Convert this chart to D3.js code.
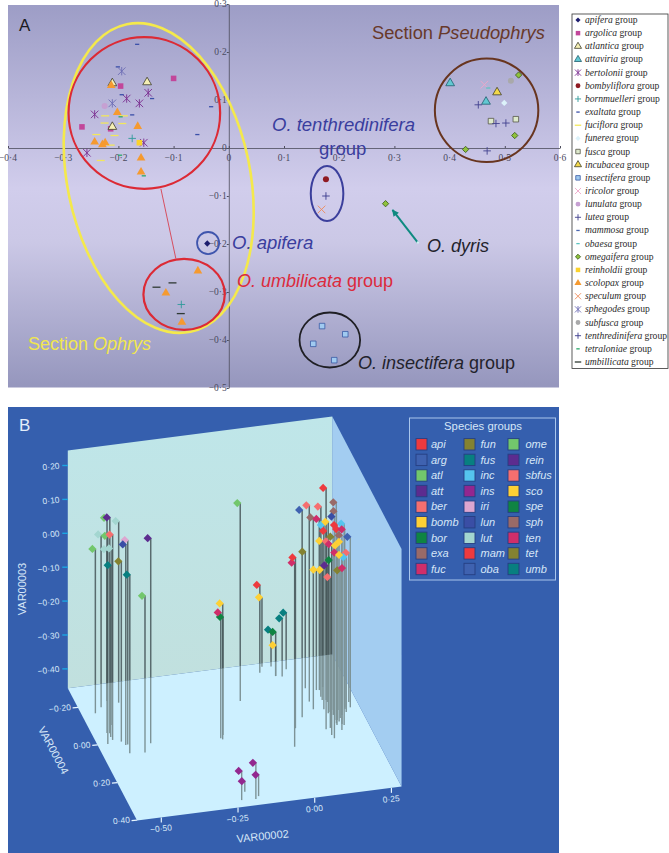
<!DOCTYPE html>
<html>
<head>
<meta charset="utf-8">
<script src="https://cdn.jsdelivr.net/npm/d3@7"></script>
<style>
  body { margin: 0; background: #fff; }
  svg { display: block; }
  text { font-family: "Liberation Sans", Arial, sans-serif; }
  .serif text, text.serif { font-family: "Liberation Serif", "Times New Roman", serif; }
</style>
</head>
<body>
<div id="chart"></div>
<script>
// panel A: species groups in the legend
const speciesA = ["apifera", "argolica", "atlantica", "attaviria", "bertolonii", "bombyliflora", "bornmuelleri",
    "exaltata", "fuciflora", "funerea", "fusca", "incubacea", "insectifera", "iricolor", "lunulata", "lutea",
    "mammosa", "obaesa", "omegaifera", "reinholdii", "scolopax", "speculum", "sphegodes", "subfusca",
    "tenthredinifera", "tetraloniae", "umbillicata"];

// panel A: [group, axis x, axis y]
const pointsA = [
    ["apifera", -.039, -.199],
    ["argolica", -.100, .145], ["argolica", -.196, .129], ["argolica", -.266, .044], ["argolica", -.214, .040],
    ["atlantica", -.211, .135], ["atlantica", -.148, .137], ["atlantica", -.211, .044],
    ["attaviria", .401, .135], ["attaviria", .466, .0965],
    ["bertolonii", -.146, .115], ["bertolonii", -.185, .103], ["bertolonii", -.162, .093], ["bertolonii", -.243, .070],
    ["bertolonii", -.257, -.010], ["bertolonii", -.154, .011],
    ["bombyliflora", .176, -.065],
    ["bornmuelleri", -.175, .020], ["bornmuelleri", -.086, -.326],
    ["exaltata", -.166, .216], ["exaltata", -.201, .169], ["exaltata", -.194, .111], ["exaltata", -.139, .103],
    ["exaltata", -.175, .069], ["exaltata", -.032, .086], ["exaltata", -.057, .028],
    ["fuciflora", -.224, .067], ["fuciflora", -.190, .067], ["fuciflora", -.193, .051], ["fuciflora", -.240, .028],
    ["fuciflora", -.207, .026], ["fuciflora", -.214, .006], ["fuciflora", -.232, -.026], ["fuciflora", -.225, .052],
    ["funerea", .499, .094],
    ["fusca", .475, .056], ["fusca", .520, .060],
    ["incubacea", .486, .116],
    ["insectifera", .169, -.371], ["insectifera", .211, -.388], ["insectifera", .153, -.408], ["insectifera", .191, -.442],
    ["iricolor", .463, .132],
    ["lunulata", -.225, .0875],
    ["lutea", .452, .090], ["lutea", .484, .051], ["lutea", .502, .052], ["lutea", .468, -.006],
    ["obaesa", .470, .125],
    ["omegaifera", .525, .152], ["omegaifera", .518, .026], ["omegaifera", .429, -.003], ["omegaifera", .284, -.116],
    ["reinholdii", -.162, .011],
    ["scolopax", -.213, .130], ["scolopax", -.202, .074], ["scolopax", -.165, .045], ["scolopax", -.243, .0125],
    ["scolopax", -.224, .011], ["scolopax", -.229, .007], ["scolopax", -.159, -.021], ["scolopax", -.159, -.050],
    ["scolopax", -.056, -.256], ["scolopax", -.114, -.302], ["scolopax", -.085, -.363],
    ["speculum", .168, -.128],
    ["sphegodes", -.194, .160], ["sphegodes", -.211, .093],
    ["subfusca", .511, .140],
    ["tenthredinifera", .176, -.100],
    ["tetraloniae", -.196, .065], ["tetraloniae", -.197, -.015], ["tetraloniae", -.154, -.058],
    ["umbillicata", -.131, -.290], ["umbillicata", -.102, -.281], ["umbillicata", -.087, -.345]
];

const ticksAx = [-.4, -.3, -.2, -.1, 0, .1, .2, .3, .4, .5, .6];
const ticksAy = [-.5, -.4, -.3, -.2, -.1, 0, .1, .2, .3];

// panel B: legend codes, column by column
const speciesB = ["api", "arg", "atl", "att", "ber", "bomb", "bor", "exa", "fuc",
    "fun", "fus", "inc", "ins", "iri", "lun", "lut", "mam", "oba",
    "ome", "rein", "sbfus", "sco", "spe", "sph", "ten", "tet", "umb"];

// panel B: [group, VAR00002, VAR00004, VAR00003]
const pointsB = [
    ["ome", -.544, -.164, .028], ["lut", -.517, -.190, .053], ["ome", -.555, -.003, .157], ["ome", -.540, -.058, .178],
    ["rein", -.532, -.055, .180], ["lut", -.456, -.202, .079], ["lut", -.489, -.218, -.009], ["lut", -.512, -.095, .064],
    ["ber", -.534, -.020, .149], ["umb", -.535, -.036, .050], ["tet", -.510, -.006, .075], ["iri", -.495, .012, .146],
    ["lun", -.502, .014, .135], ["umb", -.503, .058, .070], ["ome", -.455, .063, .005], ["rein", -.423, .021, .148],
    ["ome", -.082, -.132, .127], ["spe", -.189, .026, -.109], ["fuc", -.201, .041, -.086], ["sco", -.197, .048, -.056],
    ["mam", .023, -.261, -.198], ["sco", .039, -.289, -.252], ["umb", .067, -.284, -.348], ["sco", .066, -.234, -.366],
    ["spe", .066, -.234, -.327], ["fus", .085, -.227, -.285], ["fus", .109, -.261, -.290],
    ["fuc", .011, .131, .086], ["mam", .043, .039, .047], ["tet", .137, -.154, -.054],
    ["arg", .081, -.011, .155], ["ber", .128, -.085, .122], ["ber", .171, -.102, .104], ["mam", .135, .064, .255],
    ["sph", .128, -.044, .109], ["fuc", .177, -.136, .048],
    ["sph", .181, .024, .185], ["sph", .176, .041, .169], ["lun", .146, .114, .197], ["inc", .160, -.037, .087],
    ["inc", .197, .054, .137], ["sco", .167, -.014, .108], ["mam", .175, .050, .133], ["mam", .187, .034, .111],
    ["mam", .182, -.082, .042], ["sph", .182, .078, .118], ["ten", .227, -.034, .068], ["arg", .244, -.030, .046],
    ["tet", .180, -.003, .069], ["sco", .170, -.085, .012], ["sbfus", .171, -.020, .047], ["fuc", .143, .096, .106],
    ["sco", .206, .003, .054], ["sco", .202, -.025, .028], ["fuc", .184, .025, .037], ["sbfus", .248, -.058, -.017],
    ["inc", .224, -.009, .000], ["sco", .192, .048, .042], ["spe", .183, -.029, -.015], ["att", .182, -.071, -.054],
    ["sco", .168, -.138, -.102], ["sco", .192, -.149, -.111], ["tet", .196, .017, -.021], ["fuc", .225, -.025, -.041],
    ["sbfus", .150, .060, -.012],
    ["ins", -.236, .363, -.371], ["ins", -.213, .323, -.426], ["ins", -.191, .367, -.350], ["ins", -.178, .354, -.394]
];

const ticksBx = [-.5, -.25, 0, .25];
const ticksBy = [-.2, 0, .2, .4];
const ticksBz = [-.4, -.3, -.2, -.1, 0, .1, .2];

const width = 669;
const height = 853;

const svg = d3.select("#chart").append("svg")
    .attr("width", width)
    .attr("height", height);

const defs = svg.append("defs");

let gradA = defs.append("linearGradient").attr("id", "bgA").attr("x1", 0).attr("x2", 0).attr("y1", 0).attr("y2", 1);
gradA.append("stop").attr("offset", "0%").attr("stop-color", "#9d9dc6");
gradA.append("stop").attr("offset", "48%").attr("stop-color", "#d1cdec");
gradA.append("stop").attr("offset", "62%").attr("stop-color", "#cbc8e6");
gradA.append("stop").attr("offset", "100%").attr("stop-color", "#9596bd");

let gradWall = defs.append("linearGradient").attr("id", "bgWall").attr("x1", 0).attr("x2", 0).attr("y1", 0).attr("y2", 1);
gradWall.append("stop").attr("offset", "0%").attr("stop-color", "#bfe6e9");
gradWall.append("stop").attr("offset", "100%").attr("stop-color", "#c1e0de");

// number style of the journal: mid dot and real minus
const fmt = (d, digits) => {
    let s = Math.abs(d).toFixed(digits).replace(".", "·");
    return d < 0 ? "−" + s : s;
};

/* ---------- panel A ---------- */

const xA = d3.scaleLinear().domain([-.4, .6]).range([8, 560]);
const yA = d3.scaleLinear().domain([-.5, .3]).range([388, 4]);

svg.append("rect")
    .attr("x", 8).attr("y", 5)
    .attr("width", 551).attr("height", 382.5)
    .attr("fill", "url(#bgA)");

const axisColor = "#4d4d5c";

let gx = svg.append("g")
    .attr("transform", `translate(0, ${yA(0)})`)
    .call(d3.axisTop(xA).tickValues(ticksAx).tickSize(2).tickSizeOuter(0).tickFormat(""));
gx.selectAll("path, line").attr("stroke", axisColor);
gx.select("path").attr("stroke-width", .8);

let gy = svg.append("g")
    .attr("transform", `translate(${xA(0)}, 0)`)
    .call(d3.axisLeft(yA).tickValues(ticksAy).tickSize(2).tickSizeOuter(0).tickFormat(""));
gy.selectAll("path, line").attr("stroke", axisColor);
gy.select("path").attr("stroke-width", .8);

svg.selectAll("text.tickAx")
    .data(ticksAx)
    .join("text")
    .attr("class", "tickAx serif")
    .attr("x", d => xA(d))
    .attr("y", yA(0) + 13)
    .attr("text-anchor", "middle")
    .attr("fill", "#4a4a60")
    .style("font-size", "9.5px")
    .text(d => d === 0 ? "0" : fmt(d, 1));

svg.selectAll("text.tickAy")
    .data(ticksAy)
    .join("text")
    .attr("class", "tickAy serif")
    .attr("x", xA(0) - 2)
    .attr("y", d => yA(d) + 3)
    .attr("text-anchor", "end")
    .attr("fill", "#4a4a60")
    .style("font-size", "9.5px")
    .text(d => d === 0 ? "0" : fmt(d, 1));

// enclosing rings, in axis units
const ellipse = (cx, cy, rx, ry, colour, w) => {
    svg.append("ellipse")
        .attr("cx", xA(cx)).attr("cy", yA(cy))
        .attr("rx", rx * 552).attr("ry", ry * 480)
        .attr("fill", "none")
        .attr("stroke", colour)
        .attr("stroke-width", w);
};

// section Ophrys ring is tilted
svg.append("ellipse")
    .attr("cx", xA(-.127)).attr("cy", yA(-.0625))
    .attr("rx", 91.4).attr("ry", 157)
    .attr("transform", `rotate(-11.7, ${xA(-.127)}, ${yA(-.0625)})`)
    .attr("fill", "none")
    .attr("stroke", "#f4e94c")
    .attr("stroke-width", 2.6);

svg.append("line")
    .attr("x1", xA(-.123)).attr("y1", yA(-.085))
    .attr("x2", xA(-.096)).attr("y2", yA(-.230))
    .attr("stroke", "#d8303c").attr("stroke-width", .8);

ellipse(-.153, .073, .1373, .158, "#dc2a35", 2.2);
ellipse(-.081, -.305, .0737, .074, "#dc2a35", 2.2);
ellipse(-.0375, -.198, .02, .023, "#3f55ad", 1.8);
ellipse(.178, -.095, .0295, .0573, "#3b3f9c", 2);
ellipse(.467, .0785, .0937, .1077, "#68351f", 2);
ellipse(.183, -.4, .0549, .0573, "#1f1f24", 1.8);

// dyris arrow
defs.append("marker")
    .attr("id", "head")
    .attr("viewBox", "0 0 10 10").attr("refX", 9).attr("refY", 5)
    .attr("markerWidth", 4).attr("markerHeight", 3.4)
    .attr("orient", "auto")
    .append("path").attr("d", "M0,0L10,5L0,10z").attr("fill", "#0e8a80");
svg.append("line")
    .attr("x1", xA(.3425)).attr("y1", yA(-.197))
    .attr("x2", xA(.2965)).attr("y2", yA(-.129))
    .attr("stroke", "#0e8a80").attr("stroke-width", 2)
    .attr("marker-end", "url(#head)");
svg.append("circle").attr("cx", xA(.3425)).attr("cy", yA(-.197)).attr("r", 1.2).attr("fill", "#cfeef0");

const markerStyle = {
    apifera: { shape: "diamond", fill: "#1d1d6e", stroke: "none" },
    argolica: { shape: "square", fill: "#c2469a", stroke: "none" },
    atlantica: { shape: "triangle", fill: "#f5efb4", stroke: "#3c3c28" },
    attaviria: { shape: "triangle", fill: "#62c8d2", stroke: "#20606e" },
    bertolonii: { shape: "star", fill: "none", stroke: "#7a2c90" },
    bombyliflora: { shape: "circle", fill: "#8f1a22", stroke: "none" },
    bornmuelleri: { shape: "plus", fill: "none", stroke: "#2f9a9a" },
    exaltata: { shape: "dash", fill: "none", stroke: "#3a4fa8" },
    fuciflora: { shape: "longdash", fill: "none", stroke: "#f2e75c" },
    funerea: { shape: "diamond", fill: "#dcf2fa", stroke: "none" },
    fusca: { shape: "square", fill: "#dde9cc", stroke: "#555548" },
    incubacea: { shape: "triangle", fill: "#f3d84a", stroke: "#40402a" },
    insectifera: { shape: "square", fill: "#a0caf0", stroke: "#3a5aa4" },
    iricolor: { shape: "cross", fill: "none", stroke: "#eea6c8" },
    lunulata: { shape: "circle", fill: "#c6a0d2", stroke: "none" },
    lutea: { shape: "plus", fill: "none", stroke: "#42428f" },
    mammosa: { shape: "dash", fill: "none", stroke: "#4a66b0" },
    obaesa: { shape: "dash", fill: "none", stroke: "#5cc4c0" },
    omegaifera: { shape: "diamond", fill: "#8fc23c", stroke: "#3d5c1c" },
    reinholdii: { shape: "square", fill: "#fbd22c", stroke: "none" },
    scolopax: { shape: "triangle", fill: "#f59a30", stroke: "none" },
    speculum: { shape: "cross", fill: "none", stroke: "#ee8a58" },
    sphegodes: { shape: "star", fill: "none", stroke: "#6c6cb4" },
    subfusca: { shape: "circle", fill: "#a9a9aa", stroke: "none" },
    tenthredinifera: { shape: "plus", fill: "none", stroke: "#3a3a8c" },
    tetraloniae: { shape: "dash", fill: "none", stroke: "#2aa86a" },
    umbillicata: { shape: "longdash", fill: "none", stroke: "#2f3a34" }
};

let drawMarker = function(g, name, big) {
    let st = markerStyle[name];
    let s = big ? 1.05 : .85;
    if (st.shape === "square" || st.shape === "triangle" || st.shape === "circle" || st.shape === "diamond") {
        let t = { square: d3.symbolSquare, triangle: d3.symbolTriangle, circle: d3.symbolCircle, diamond: d3.symbolSquare }[st.shape];
        let size = { square: 28, triangle: 30, circle: 26, diamond: 18 }[st.shape] * s * s;
        g.append("path")
            .attr("d", d3.symbol().type(t).size(size)())
            .attr("transform", st.shape === "diamond" ? "rotate(45)" : null)
            .attr("fill", st.fill)
            .attr("stroke", st.stroke)
            .attr("stroke-width", st.stroke === "none" ? 0 : .8);
        return;
    }
    let segs = [];
    let r = 3.6 * s;
    if (st.shape === "plus") segs = [[-r, 0, r, 0], [0, -r, 0, r]];
    if (st.shape === "cross") segs = [[-r, -r, r, r], [-r, r, r, -r]];
    if (st.shape === "star") segs = [[-r, -r, r, r], [-r, r, r, -r], [0, -r * 1.1, 0, r * 1.1]];
    if (st.shape === "dash") segs = [[-2 * s, 0, 2 * s, 0]];
    if (st.shape === "longdash") segs = [[-3.8 * s, 0, 3.8 * s, 0]];
    g.selectAll("line").data(segs).join("line")
        .attr("x1", d => d[0]).attr("y1", d => d[1])
        .attr("x2", d => d[2]).attr("y2", d => d[3])
        .attr("stroke", st.stroke)
        .attr("stroke-width", (st.shape === "dash" || st.shape === "longdash") ? 1.3 : .9);
};

svg.append("g").selectAll("g")
    .data(pointsA)
    .join("g")
    .attr("transform", d => `translate(${xA(d[1])}, ${yA(d[2])})`)
    .each(function(d) { drawMarker(d3.select(this), d[0], true); });

// panel A annotations
let note = function(x, y, colour, parts, size) {
    let t = svg.append("text").attr("x", x).attr("y", y).attr("fill", colour).style("font-size", size + "px");
    parts.forEach(p => t.append("tspan").style("font-style", p[1] ? "italic" : "normal").text(p[0]));
    return t;
};
note(19, 31, "#1b1b22", [["A", false]], 17);
note(372, 39, "#68392a", [["Section ", false], ["Pseudophrys", true]], 18.3);
note(272, 131, "#3a3e9e", [["O. tenthredinifera", true]], 18.5);
note(319, 155, "#3a3e9e", [["group", false]], 18.5);
note(232, 249, "#3a3e9e", [["O. apifera", true]], 18.5);
note(237, 287, "#dc2a3c", [["O. umbilicata", true], [" group", false]], 18);
note(427, 252, "#23232c", [["O. dyris", true]], 18);
note(358, 369, "#23232c", [["O. insectifera", true], [" group", false]], 18);
note(28, 350, "#f0e64e", [["Section ", false], ["Ophrys", true]], 18);

// panel A legend
svg.append("rect")
    .attr("x", 572).attr("y", 14)
    .attr("width", 96).attr("height", 354.5)
    .attr("fill", "#fff")
    .attr("stroke", "#333").attr("stroke-width", .8);

const rowA = d3.scaleLinear().domain([0, 26]).range([20, 362]);

let legendA = svg.append("g").selectAll("g")
    .data(speciesA)
    .join("g")
    .attr("transform", (d, i) => `translate(0, ${rowA(i)})`);

legendA.append("g")
    .attr("transform", "translate(578, 0)")
    .each(function(d) { drawMarker(d3.select(this), d, false); });

let legendText = legendA.append("text")
    .attr("class", "serif")
    .attr("x", 585)
    .attr("y", 3)
    .attr("fill", "#2a2a2a")
    .style("font-size", "9.6px");
legendText.append("tspan").style("font-style", "italic").text(d => d);
legendText.append("tspan").text(" group");

/* ---------- panel B ---------- */

svg.append("rect")
    .attr("x", 8).attr("y", 407)
    .attr("width", 551).attr("height", 446)
    .attr("fill", "#355fae");

// oblique box: each axis moves a point along its own screen direction
const origin = [275.4, 722.6];
const floorZ = -.457;
const sxX = d3.scaleLinear().domain([0, 1]).range([0, 306.8]);
const syX = d3.scaleLinear().domain([0, 1]).range([0, -39.5]);
const sxY = d3.scaleLinear().domain([0, 1]).range([0, 98.3]);
const syY = d3.scaleLinear().domain([0, 1]).range([0, 187.8]);
const syZ = d3.scaleLinear().domain([floorZ, .244]).range([0, -237.6]);

let project = function(x, y, z) {
    return [origin[0] + sxX(x) + sxY(y), origin[1] + syX(x) + syY(y) + syZ(z)];
};

const boxX = [-.579, .283];
const boxY = [-.305, .4];
const boxZ = [floorZ, .244];

let polygon = function(corners) { return corners.map(c => project(...c).join(",")).join(" "); };

const floorPts = polygon([[boxX[0], boxY[0], boxZ[0]], [boxX[1], boxY[0], boxZ[0]], [boxX[1], boxY[1], boxZ[0]], [boxX[0], boxY[1], boxZ[0]]]);
const backPts = polygon([[boxX[0], boxY[0], boxZ[0]], [boxX[1], boxY[0], boxZ[0]], [boxX[1], boxY[0], boxZ[1]], [boxX[0], boxY[0], boxZ[1]]]);
const rightPts = polygon([[boxX[1], boxY[0], boxZ[0]], [boxX[1], boxY[1], boxZ[0]], [boxX[1], boxY[1], boxZ[1]], [boxX[1], boxY[0], boxZ[1]]]);

svg.append("polygon").attr("points", floorPts).attr("fill", "#cdf0ff");
svg.append("polygon").attr("points", rightPts).attr("fill", "#a3cdf1");
svg.append("polygon").attr("points", backPts).attr("fill", "url(#bgWall)");

defs.append("clipPath").attr("id", "wallClip").append("polygon").attr("points", backPts);

// stems sit a little right of their diamonds in the original
const stemShift = 3;

svg.append("g").selectAll("line")
    .data(pointsB)
    .join("line")
    .attr("x1", d => project(d[1], d[2], d[3])[0] + stemShift)
    .attr("x2", d => project(d[1], d[2], floorZ)[0] + stemShift)
    .attr("y1", d => project(d[1], d[2], d[3])[1])
    .attr("y2", d => project(d[1], d[2], floorZ)[1])
    .attr("stroke", "#7d9397")
    .attr("stroke-width", 1.4);

svg.append("g").attr("clip-path", "url(#wallClip)").selectAll("line")
    .data(pointsB)
    .join("line")
    .attr("x1", d => project(d[1], d[2], d[3])[0] + stemShift)
    .attr("x2", d => project(d[1], d[2], floorZ)[0] + stemShift)
    .attr("y1", d => project(d[1], d[2], d[3])[1])
    .attr("y2", d => project(d[1], d[2], floorZ)[1])
    .attr("stroke", "#3c4a4c")
    .attr("stroke-opacity", .55)
    .attr("stroke-width", 1.4);

const colourB = d3.scaleOrdinal()
    .domain(speciesB)
    .range(["#ee3a3e", "#3f62b0", "#72c76c", "#5c2c8f", "#f56f6f", "#fdd035", "#0f8442", "#996a68", "#cf2e6a",
        "#848231", "#087f80", "#55c4ee", "#93278f", "#dda6d0", "#3a4ea5", "#a3d6d0", "#ee3a3e", "#3f62b0",
        "#72c76c", "#5c2c8f", "#f56f6f", "#fdd035", "#0f8442", "#996a68", "#cf2e6a", "#848231", "#087f80"]);

svg.append("g").selectAll("path")
    .data(pointsB)
    .join("path")
    .attr("d", d3.symbol().type(d3.symbolSquare).size(34)())
    .attr("transform", d => {
        let p = project(d[1], d[2], d[3]);
        return `translate(${p[0]}, ${p[1]}) rotate(45)`;
    })
    .attr("fill", d => colourB(d[0]));

// axes of the box
const tickBlue = "#1ba6e2";
const labelBlue = "#d5e6f7";

let tilted = function(x, y, label, rot, size) {
    return svg.append("text")
        .attr("transform", `translate(${x}, ${y}) rotate(${rot})`)
        .attr("fill", labelBlue)
        .style("font-size", size + "px")
        .text(label);
};

ticksBz.forEach(z => {
    let p = project(boxX[0], boxY[0], z);
    svg.append("line")
        .attr("x1", p[0] - 5.5).attr("x2", p[0])
        .attr("y1", p[1] + 0).attr("y2", p[1])
        .attr("stroke", tickBlue).attr("stroke-width", 1.4);
    tilted(p[0] - 8, p[1] + 3, fmt(z, 2), -6, 8.5).attr("text-anchor", "end");
});

ticksBy.forEach(y => {
    let p = project(boxX[0], y, floorZ);
    svg.append("line")
        .attr("x1", p[0] - 5.5).attr("x2", p[0])
        .attr("y1", p[1]).attr("y2", p[1] - .5)
        .attr("stroke", "#e8f6ff").attr("stroke-width", 1.2);
    tilted(p[0] - 7, p[1] + 2, fmt(y, 2), -6, 8.5).attr("text-anchor", "end");
});

ticksBx.forEach(x => {
    let p = project(x, boxY[1], floorZ);
    svg.append("line")
        .attr("x1", p[0]).attr("x2", p[0])
        .attr("y1", p[1]).attr("y2", p[1] + 5)
        .attr("stroke", "#e8f6ff").attr("stroke-width", 1.2);
    tilted(p[0], p[1] + 14, fmt(x, 2), -6, 8.5).attr("text-anchor", "middle");
});

tilted(26, 589, "VAR00003", -90, 11).attr("text-anchor", "middle");
tilted(50, 752, "VAR00004", 62, 11).attr("text-anchor", "middle");
tilted(263, 840, "VAR00002", -6, 11).attr("text-anchor", "middle");

note(19, 431, "#e4eefa", [["B", false]], 17);

// panel B legend
svg.append("rect")
    .attr("x", 409.5).attr("y", 418)
    .attr("width", 146).attr("height", 162)
    .attr("fill", "none")
    .attr("stroke", "#a9c6ec").attr("stroke-width", 1);

svg.append("text")
    .attr("x", 483).attr("y", 430)
    .attr("text-anchor", "middle")
    .attr("fill", "#d5e6f7")
    .style("font-size", "11.3px")
    .text("Species groups");

const colSwatch = [416, 464, 508];
const colLabel = [431, 480.5, 525.5];
const rowB = d3.scaleLinear().domain([0, 8]).range([444.3, 569]);

let legendB = svg.append("g").selectAll("g")
    .data(speciesB)
    .join("g")
    .attr("transform", (d, i) => `translate(0, ${rowB(i % 9)})`);

legendB.append("rect")
    .attr("x", (d, i) => colSwatch[Math.floor(i / 9)])
    .attr("y", -5.7)
    .attr("width", 11)
    .attr("height", 11.4)
    .attr("fill", d => colourB(d))
    .attr("stroke", "#263f82")
    .attr("stroke-width", .9);

legendB.append("text")
    .attr("x", (d, i) => colLabel[Math.floor(i / 9)])
    .attr("y", 3.8)
    .attr("fill", "#d5e6f7")
    .style("font-size", "11px")
    .style("font-style", "italic")
    .text(d => d);
</script>
</body>
</html>
